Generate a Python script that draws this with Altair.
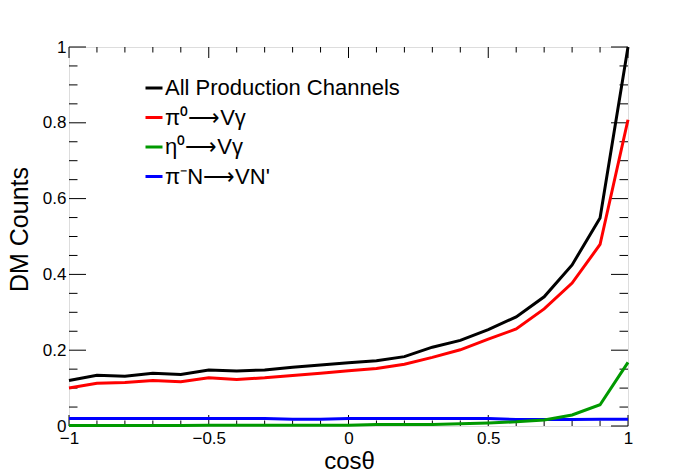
import altair as alt
import pandas as pd

# ---- data ----
cos_theta = [-1.0, -0.9, -0.8, -0.7, -0.6, -0.5, -0.4, -0.3, -0.2, -0.1, 0.0,
             0.1, 0.2, 0.3, 0.4, 0.5, 0.6, 0.7, 0.8, 0.9, 1.0]
all_channels = [0.120, 0.134, 0.131, 0.139, 0.136, 0.148, 0.145, 0.148, 0.155, 0.161, 0.167,
                0.172, 0.183, 0.208, 0.226, 0.254, 0.288, 0.341, 0.425, 0.549, 1.000]
pi0_vgamma = [0.100, 0.113, 0.115, 0.120, 0.117, 0.127, 0.123, 0.127, 0.133, 0.139, 0.146,
              0.152, 0.163, 0.181, 0.201, 0.229, 0.256, 0.309, 0.377, 0.479, 0.808]
eta0_vgamma = [0.001, 0.001, 0.001, 0.001, 0.001, 0.002, 0.002, 0.002, 0.002, 0.002, 0.002,
               0.004, 0.004, 0.004, 0.006, 0.008, 0.011, 0.016, 0.029, 0.056, 0.168]
piminusN_VN = [0.020, 0.020, 0.020, 0.020, 0.020, 0.020, 0.020, 0.020, 0.018, 0.018, 0.020,
               0.020, 0.020, 0.020, 0.020, 0.020, 0.017, 0.017, 0.017, 0.018, 0.018]

series_names = ["All Production Channels", "π⁰⟶Vγ", "η⁰⟶Vγ", "π⁻N⟶VN'"]
series_colors = ["#000000", "#ff0000", "#009900", "#0000ff"]

x_major = [-1.0, -0.5, 0.0, 0.5, 1.0]
x_minor = [-0.9, -0.8, -0.7, -0.6, -0.4, -0.3, -0.2, -0.1,
           0.1, 0.2, 0.3, 0.4, 0.6, 0.7, 0.8, 0.9]
y_major = [0.0, 0.2, 0.4, 0.6, 0.8, 1.0]
y_minor = [0.05, 0.1, 0.15, 0.25, 0.3, 0.35, 0.45, 0.5, 0.55,
           0.65, 0.7, 0.75, 0.85, 0.9, 0.95]

W, H = 559, 379
FONT = "Liberation Sans"

# draw order: black, red, blue, green (green over blue)
series_values = {
    series_names[0]: all_channels,
    series_names[1]: pi0_vgamma,
    series_names[3]: piminusN_VN,
    series_names[2]: eta0_vgamma,
}
rows = []
for name, vals in series_values.items():
    for xv, yv in zip(cos_theta, vals):
        rows.append({"x": xv, "y": yv, "series": name})
df = pd.DataFrame(rows)

xscale = alt.Scale(domain=[-1, 1], nice=False, zero=False)
yscale = alt.Scale(domain=[0, 1], nice=False)

lines = alt.Chart(df).mark_line(strokeWidth=3, clip=False).encode(
    x=alt.X("x:Q", scale=xscale,
            axis=alt.Axis(title="cosθ", values=x_major, format="~g", grid=False,
                          domain=False, ticks=False, labelFlush=False,
                          labelOverlap=False, labelFontSize=17, labelPadding=4,
                          labelColor="black", titleFontSize=24,
                          titleFontWeight="normal", titleColor="black",
                          titleX=280, titleY=42, titleBaseline="alphabetic",
                          titleAlign="center")),
    y=alt.Y("y:Q", scale=yscale,
            axis=alt.Axis(title="DM Counts", values=y_major, format="~g", grid=False,
                          domain=False, ticks=False, labelFlush=False,
                          labelOverlap=False, labelFontSize=17, labelPadding=3,
                          labelColor="black", titleFontSize=25,
                          titleFontWeight="normal", titleColor="black",
                          titleX=-42, titleY=182, titleAngle=-90,
                          titleBaseline="alphabetic", titleAlign="center")),
    color=alt.Color("series:N",
                    scale=alt.Scale(domain=series_names, range=series_colors),
                    legend=alt.Legend(orient="none", legendX=74, legendY=30,
                                      title=None, symbolType="stroke",
                                      symbolSize=289, symbolStrokeWidth=3,
                                      labelFontSize=22, labelOffset=0,
                                      rowPadding=7.5, padding=0, labelLimit=400,
                                      labelColor="black")),
    order=alt.Order("x:Q"),
)

def xticks(vals, length):
    d = pd.DataFrame({"x": vals})
    bottom = alt.Chart(d).mark_rule(color="black", strokeWidth=1).encode(
        x=alt.X("x:Q", scale=xscale), y=alt.value(H), y2=alt.value(H - length))
    top = alt.Chart(d).mark_rule(color="black", strokeWidth=1).encode(
        x=alt.X("x:Q", scale=xscale), y=alt.value(0), y2=alt.value(length))
    return [bottom, top]

def yticks(vals, length):
    d = pd.DataFrame({"y": vals})
    left = alt.Chart(d).mark_rule(color="black", strokeWidth=1).encode(
        y=alt.Y("y:Q", scale=yscale), x=alt.value(0), x2=alt.value(length))
    right = alt.Chart(d).mark_rule(color="black", strokeWidth=1).encode(
        y=alt.Y("y:Q", scale=yscale), x=alt.value(W), x2=alt.value(W - length))
    return [left, right]

tick_layers = xticks(x_major, 11) + xticks(x_minor, 5.5) + yticks(y_major, 17) + yticks(y_minor, 8.5)

chart = alt.layer(*tick_layers, lines).properties(
    width=W, height=H,
    autosize=alt.AutoSizeParams(type="none"),
    padding={"left": 61, "top": 39, "right": 50, "bottom": 47},
    background="white",
).configure_view(
    stroke="black", strokeWidth=2
).configure(
    font=FONT
)

chart.save("out.html", embed_options={"renderer": "svg", "actions": False})
